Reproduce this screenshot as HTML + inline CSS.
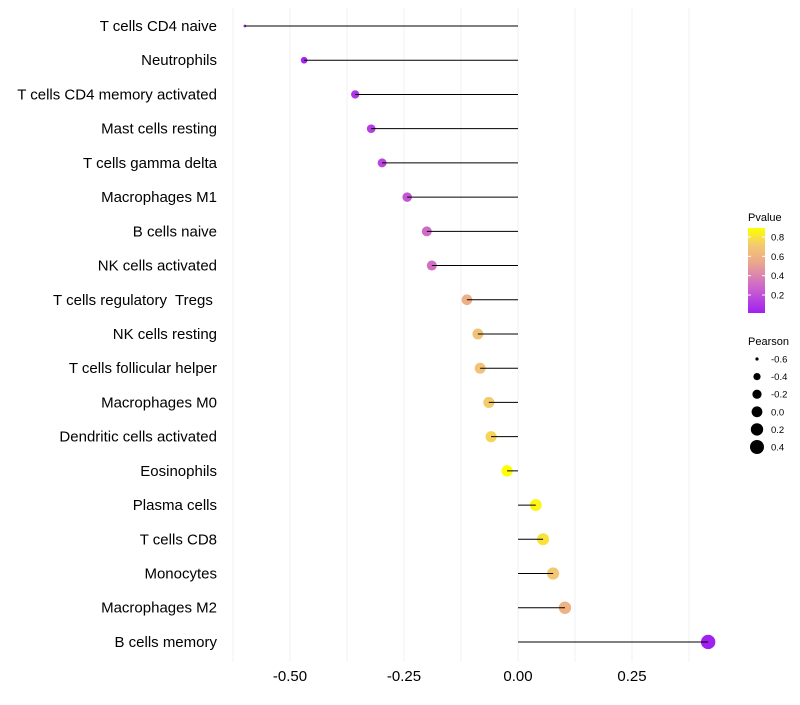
<!DOCTYPE html>
<html><head><meta charset="utf-8"><style>
body{margin:0;background:#fff;font-family:"Liberation Sans",sans-serif}
text{white-space:pre}
</style></head><body>
<svg id="chart" width="800" height="700" xmlns="http://www.w3.org/2000/svg"></svg>
<script>
const cells=["T cells CD4 naive","Neutrophils","T cells CD4 memory activated","Mast cells resting","T cells gamma delta","Macrophages M1","B cells naive","NK cells activated","T cells regulatory  Tregs ","NK cells resting","T cells follicular helper","Macrophages M0","Dendritic cells activated","Eosinophils","Plasma cells","T cells CD8","Monocytes","Macrophages M2","B cells memory"];
const pearson=[-0.599,-0.469,-0.357,-0.322,-0.298,-0.243,-0.200,-0.189,-0.112,-0.088,-0.083,-0.064,-0.059,-0.024,0.039,0.055,0.077,0.103,0.417];
const pvalue=[0.01,0.04,0.10,0.13,0.16,0.22,0.30,0.32,0.58,0.68,0.68,0.72,0.75,0.89,0.86,0.80,0.70,0.60,0.01];
const xTicks=[-0.5,-0.25,0,0.25];
const xTickLabels=["-0.50","-0.25","0.00","0.25"];
const pTicks=[0.2,0.4,0.6,0.8];
const sizeTicks=[-0.6,-0.4,-0.2,0.0,0.2,0.4];

const NS="http://www.w3.org/2000/svg";
const svg=document.getElementById('chart');
function mk(t,a,p){const e=document.createElementNS(NS,t);for(const k in a)e.setAttribute(k,a[k]);(p||svg).appendChild(e);return e;}
const x=v=>518+v*456;
const y=i=>26+i*34.22;
const rad=p=>{const t=Math.max(0,(p+0.6)/1.02);return 1.2*(1+5*Math.sqrt(t));};
const stops=[[0,[160,32,240]],[0.3,[205,100,205]],[0.6,[236,168,140]],[0.8,[243,202,112]],[1,[255,255,0]]];
function col(p){const t=Math.max(0,Math.min(1,(p-0.014)/(0.893-0.014)));
 let k=0;while(k<stops.length-2&&t>stops[k+1][0])k++;
 const a=stops[k],b=stops[k+1];const f=(t-a[0])/(b[0]-a[0]);
 const c=a[1].map((v,i)=>Math.round(v+(b[1][i]-v)*f));return `rgb(${c})`;}
for(let v=-0.625;v<=0.42;v+=0.125){const g=mk('line',{x1:x(v),x2:x(v),y1:8,y2:662,stroke:'#f0f0f0','stroke-width':1});

}
xTicks.forEach((v,i)=>{const t=mk('text',{x:x(v),y:681,'text-anchor':'middle','font-size':15,fill:'#000'});t.textContent=xTickLabels[i];

});
cells.forEach((c,i)=>{
 const t=mk('text',{x:217,y:y(i)+5,'text-anchor':'end','font-size':15,fill:'#000'});t.textContent=c;
 
 
 const d=mk('circle',{cx:x(pearson[i]),cy:y(i),r:rad(pearson[i]),fill:col(pvalue[i])});
 
 
 const l=mk('line',{x1:x(0),x2:x(pearson[i]),y1:y(i),y2:y(i),stroke:'#000','stroke-width':1});
 
 
});
const defs=mk('defs',{});const gr=mk('linearGradient',{id:'pg',x1:0,y1:1,x2:0,y2:0},defs);
stops.forEach(s=>mk('stop',{offset:s[0],'stop-color':`rgb(${s[1]})`},gr));
const lt=mk('text',{x:748,y:221,'font-size':11});lt.textContent='Pvalue';


const bar=mk('rect',{x:748,y:228,width:17,height:85,fill:'url(#pg)'});


const py=v=>313-(v-0.014)*96.7;
pTicks.forEach(v=>{mk('line',{x1:748,x2:751,y1:py(v),y2:py(v),stroke:'#fff'});mk('line',{x1:762,x2:765,y1:py(v),y2:py(v),stroke:'#fff'});
 const t=mk('text',{x:771,y:py(v)+3.5,'font-size':9.5});t.textContent=v.toFixed(1);
 
 });
const st=mk('text',{x:748,y:345,'font-size':11});st.textContent='Pearson';


const lr=[1.6,3.6,4.6,5.4,6.2,7];
sizeTicks.forEach((v,i)=>{const cy=359+i*17.6;
 const c=mk('circle',{cx:757,cy:cy,r:lr[i],fill:'#000'});
 
 
 const t=mk('text',{x:771,y:cy+3.5,'font-size':9.5});t.textContent=v.toFixed(1);
 
 });
</script>
</body></html>
